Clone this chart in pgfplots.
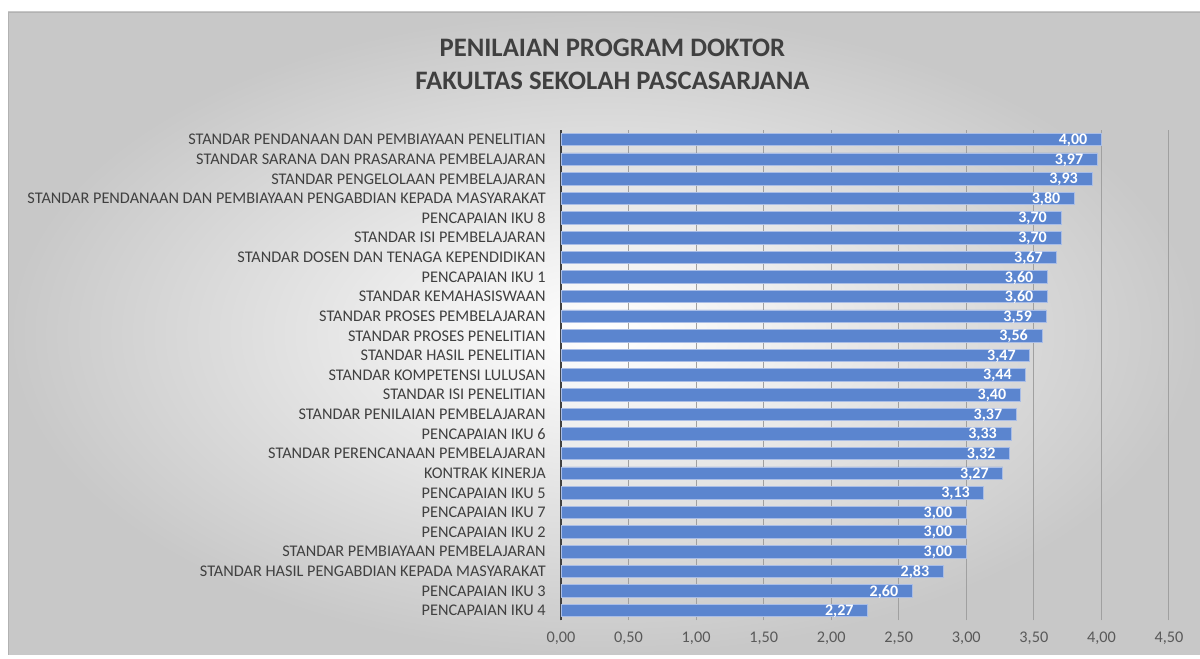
\documentclass[border=0pt]{standalone}
\usepackage{pgfplots}
\pgfplotsset{compat=1.18}
\usepackage{fontspec}
\setmainfont{Carlito}
\definecolor{barblue}{HTML}{5B85CF}
\definecolor{baredge}{HTML}{A9BDE6}
\definecolor{txt}{HTML}{404040}
\definecolor{ticktxt}{HTML}{595959}
\definecolor{gridc}{HTML}{A0A0A0}
\definecolor{bgout}{HTML}{C8C8C8}
\begin{document}
\begin{tikzpicture}[x=1pt,y=1pt]
\useasboundingbox (0,0) rectangle (900,494.25);
\shade[inner color=white, outer color=bgout] (6,3) rectangle (900,485.25);
\draw[color=gray!60, line width=0.5pt] (6,3) -- (6,485.25) -- (900,485.25);
\node[font=\bfseries\fontsize{20}{24.75}\selectfont, text=txt, align=center] at (459.3,446) {PENILAIAN PROGRAM DOKTOR\\FAKULTAS SEKOLAH PASCASARJANA};
\begin{axis}[
  at={(420.75pt,28.95pt)}, anchor=south west, scale only axis,
  width=456pt, height=367.95pt,
  xmin=0, xmax=4.5, ymin=-0.5, ymax=24.5,
  xbar, bar width=9.4pt, bar shift=0pt,
  axis y line*=left, axis x line*=bottom,
  x axis line style={draw=none},
  y axis line style={line width=2.2pt, draw=txt},
  xtick={0,0.5,...,4.5},
  xmajorgrids, grid style={draw=gridc, line width=0.75pt},
  major tick length=0pt,
  ytick={0,...,24},
  yticklabels={PENCAPAIAN IKU 4,PENCAPAIAN IKU 3,STANDAR HASIL PENGABDIAN KEPADA MASYARAKAT,STANDAR PEMBIAYAAN PEMBELAJARAN,PENCAPAIAN IKU 2,PENCAPAIAN IKU 7,PENCAPAIAN IKU 5,KONTRAK KINERJA,STANDAR PERENCANAAN PEMBELAJARAN,PENCAPAIAN IKU 6,STANDAR PENILAIAN PEMBELAJARAN,STANDAR ISI PENELITIAN,STANDAR KOMPETENSI LULUSAN,STANDAR HASIL PENELITIAN,STANDAR PROSES PENELITIAN,STANDAR PROSES PEMBELAJARAN,STANDAR KEMAHASISWAAN,PENCAPAIAN IKU 1,STANDAR DOSEN DAN TENAGA KEPENDIDIKAN,STANDAR ISI PEMBELAJARAN,PENCAPAIAN IKU 8,STANDAR PENDANAAN DAN PEMBIAYAAN PENGABDIAN KEPADA MASYARAKAT,STANDAR PENGELOLAAN PEMBELAJARAN,STANDAR SARANA DAN PRASARANA PEMBELAJARAN,STANDAR PENDANAAN DAN PEMBIAYAAN PENELITIAN},
  yticklabel style={font=\fontsize{12.2}{14}\selectfont, text=txt, anchor=east, xshift=-8pt},
  xticklabel style={font=\fontsize{12.2}{14}\selectfont, text=ticktxt, yshift=-5pt},
  /pgf/number format/.cd, use comma, fixed, fixed zerofill, precision=2, assume math mode=true,
  /pgfplots/.cd,
  nodes near coords,
  nodes near coords style={anchor=east, xshift=-7pt, yshift=-0.5pt, text=white, font=\bfseries\fontsize{12}{13}\selectfont},
]
\addplot[fill=barblue, draw=baredge, line width=0.6pt] coordinates {
(2.27,0) (2.60,1) (2.83,2) (3.00,3) (3.00,4) (3.00,5) (3.13,6) (3.27,7) (3.32,8) (3.33,9) (3.37,10) (3.40,11) (3.44,12) (3.47,13) (3.56,14) (3.59,15) (3.60,16) (3.60,17) (3.67,18) (3.70,19) (3.70,20) (3.80,21) (3.93,22) (3.97,23) (4.00,24)
};
\end{axis}
\end{tikzpicture}
\end{document}
